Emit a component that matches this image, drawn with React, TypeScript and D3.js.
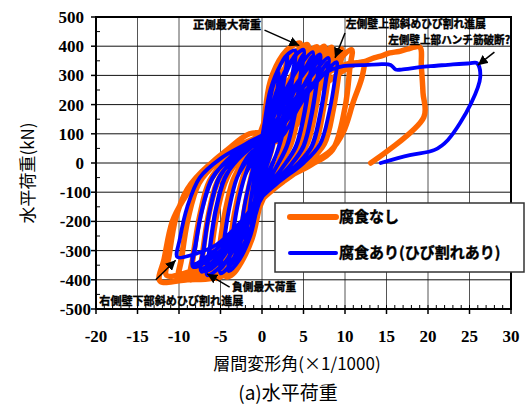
import React from "react";
import * as d3 from "d3";

type P = [number, number];

// x: story drift angle (×1/1000), y: horizontal load (kN)
const xTicks = [-20, -15, -10, -5, 0, 5, 10, 15, 20, 25, 30];
const yTicks = [-500, -400, -300, -200, -100, 0, 100, 200, 300, 400, 500];

const orangeCycles: P[][] = [
  [[0, 0], [0.5, 150], [1, 220], [0.8, 150], [0.3, 30], [-0.2, -60], [-0.6, -140], [-1, -200], [-0.8, -140], [-0.3, -30], [0.1, 60]],
  [[0.6, 150], [1.3, 270], [2, 330], [1.7, 240], [1.1, 110], [0.3, -20], [-0.5, -130], [-1.2, -230], [-2, -300], [-1.7, -220], [-1.1, -90], [-0.3, 40]],
  [[0.3, 130], [1.2, 280], [2.2, 350], [3, 385], [2.7, 300], [2.0, 170], [1.2, 50], [0, -60], [-0.8, -180], [-1.8, -290], [-3, -360], [-2.7, -280], [-2.0, -140], [-1.0, -10], [0, 100]],
  [[1, 280], [2.5, 370], [3.6, 400], [4.6, 410], [4.3, 330], [3.6, 190], [2.6, 60], [1.2, -50], [0, -120], [-1.2, -260], [-2.5, -340], [-3.5, -380], [-4.3, -390], [-4.0, -310], [-3.3, -170], [-2.3, -50], [-1, 40], [0, 120]],
  [[1.5, 230], [3, 340], [4.2, 385], [5.5, 405], [5.2, 330], [4.5, 190], [3.5, 70], [2, -20], [0.5, -100], [-1, -200], [-2.5, -300], [-4, -365], [-5.5, -395], [-5.2, -320], [-4.5, -180], [-3.5, -60], [-2, 20], [-0.5, 90]],
  [[1, 110], [2.6, 220], [4.2, 330], [5.5, 395], [5.2, 320], [4.5, 185], [3.5, 65], [1.8, -25], [0, -105], [-1.8, -210], [-3.6, -310], [-5.5, -385], [-5.2, -310], [-4.5, -175], [-3.4, -55], [-1.8, 20]],
  [[1.5, 170], [3.2, 280], [5, 360], [6.6, 398], [6.3, 320], [5.6, 190], [4.6, 70], [3, -10], [1, -80], [-0.8, -160], [-2.5, -270], [-4.5, -350], [-6.5, -395], [-6.2, -320], [-5.5, -185], [-4.5, -70], [-3, 10], [-1, 70]],
  [[1.3, 100], [3.2, 210], [5, 320], [6.6, 390], [6.3, 315], [5.6, 185], [4.6, 65], [2.8, -15], [0.5, -90], [-1.5, -180], [-3.5, -280], [-5.2, -350], [-6.5, -388], [-6.2, -312], [-5.5, -180], [-4.4, -60], [-2.7, 15]],
  [[1.8, 140], [4, 260], [6, 350], [7.5, 400], [7.2, 325], [6.5, 195], [5.5, 75], [4, 0], [2, -60], [0, -120], [-2, -220], [-4, -310], [-6, -370], [-7.5, -398], [-7.2, -325], [-6.5, -190], [-5.4, -70], [-3.8, 0], [-1.5, 60]],
  [[1.8, 95], [4, 210], [6, 320], [7.5, 392], [7.2, 318], [6.5, 190], [5.5, 70], [3.8, -5], [1.5, -70], [-0.8, -150], [-3, -250], [-5.5, -340], [-7.5, -390], [-7.2, -318], [-6.5, -185], [-5.4, -65], [-3.6, 5]],
  [[2, 120], [4.5, 240], [6.8, 340], [8.4, 396], [8.1, 320], [7.4, 190], [6.4, 70], [4.8, 0], [2.5, -60], [0.3, -110], [-2, -200], [-4.5, -300], [-7, -370], [-8.6, -400], [-8.3, -325], [-7.5, -185], [-6.3, -65], [-4.6, 0], [-2, 60]],
  [[2.3, 90], [4.8, 210], [6.9, 320], [8.4, 388], [8.1, 315], [7.4, 185], [6.4, 65], [4.5, -5], [2, -65], [-0.5, -130], [-3, -230], [-6, -330], [-8.6, -392], [-8.3, -318], [-7.5, -180], [-6.3, -60], [-4.4, 5]],
  [[2, 110], [5, 230], [7.8, 330], [9.6, 390], [9.3, 320], [8.6, 190], [7.5, 70], [5.5, 0], [3, -55], [0.5, -105], [-2, -190], [-5, -300], [-8, -375], [-10, -400], [-9.7, -330], [-8.9, -190], [-7.6, -70], [-5.5, 0], [-2.5, 60]],
  [[2.8, 85], [5.5, 200], [7.9, 310], [9.6, 382], [9.3, 315], [8.6, 185], [7.5, 65], [5.3, -5], [2.5, -65], [0, -125], [-3, -225], [-6.5, -330], [-10, -395], [-9.7, -325], [-8.9, -185], [-7.6, -65], [-5.3, 5]],
  [[1.5, 110], [5, 220], [8.5, 330], [10.8, 388], [10.6, 330], [10, 190], [8.5, 45], [6, -5], [3, -50], [1, -82], [-0.5, -130], [-2, -280], [-3.5, -370], [-6, -395], [-9, -400], [-12.3, -404], [-11.8, -330], [-10.8, -200], [-9.5, -127], [-6.6, -14], [-4.2, 45], [-1.5, 100]],
  [[2, 110], [6, 230], [10, 320], [12.2, 345], [12.1, 300], [11, 209], [9.8, 106], [8.2, 40], [5, -14], [1, -82], [-0.8, -150], [-3, -250], [-6, -340], [-9, -375], [-11.5, -385], [-11.2, -320], [-10.4, -190], [-9, -90], [-6.5, -10], [-3.5, 50], [0, 100]],
  [[4, 220], [8, 310], [10.4, 340], [12.2, 346], [13.5, 360], [14.5, 368], [15.4, 377], [16.5, 382], [17.5, 390], [19, 397], [19.2, 330], [19.4, 240], [19.5, 157], [13.1, 0]],
];

const blueCycles: P[][] = [
  [[0, 0], [0.5, 140], [1, 200], [0.8, 130], [0.3, 20], [-0.2, -60], [-0.6, -120], [-1, -170], [-0.8, -110], [-0.3, -20], [0.1, 60]],
  [[0.6, 150], [1.3, 260], [2, 310], [1.7, 220], [1.1, 100], [0.3, -20], [-0.5, -120], [-1.2, -210], [-2, -280], [-1.7, -200], [-1.1, -80], [-0.3, 40]],
  [[0.4, 140], [1.3, 270], [2.2, 335], [3, 370], [2.7, 290], [2, 160], [1.2, 45], [0, -60], [-0.8, -170], [-1.8, -270], [-3, -340], [-2.7, -260], [-2, -130], [-1, -10], [0, 90]],
  [[1, 250], [2.3, 340], [3.2, 375], [4, 385], [3.7, 310], [3, 175], [2, 55], [0.8, -40], [-0.3, -120], [-1.4, -250], [-2.7, -330], [-4, -370], [-3.7, -290], [-3, -155], [-2, -40], [-0.8, 40]],
  [[0.2, 60], [1.5, 180], [2.8, 300], [4, 370], [3.7, 295], [3, 165], [2, 50], [0.6, -40], [-0.6, -110], [-1.8, -210], [-3, -300], [-4, -355], [-3.7, -280], [-3, -150], [-2, -40], [-0.6, 30]],
  [[0.5, 110], [1.8, 250], [3.5, 350], [5, 388], [4.7, 315], [4, 180], [3, 60], [1.6, -20], [0, -110], [-1.3, -220], [-3, -320], [-5, -378], [-4.7, -300], [-4, -165], [-3, -50], [-1.5, 30]],
  [[0.8, 80], [2.4, 190], [3.8, 300], [5, 372], [4.7, 300], [4, 170], [3, 55], [1.5, -25], [-0.3, -100], [-2, -200], [-3.6, -300], [-5, -362], [-4.7, -290], [-4, -160], [-3, -50], [-1.4, 25]],
  [[0.5, 100], [2.5, 230], [4.5, 330], [6.1, 380], [5.8, 305], [5.1, 175], [4.1, 60], [2.6, -10], [0.8, -80], [-1, -170], [-2.8, -270], [-4.8, -350], [-6.6, -384], [-6.3, -305], [-5.6, -170], [-4.5, -55], [-3, 15], [-1, 70]],
  [[1, 80], [3, 190], [4.8, 300], [6.1, 365], [5.8, 290], [5.1, 165], [4.1, 55], [2.5, -15], [0.5, -85], [-1.5, -170], [-3.5, -270], [-5.2, -340], [-6.6, -368], [-6.3, -290], [-5.6, -160], [-4.5, -50], [-2.8, 15]],
  [[1.2, 120], [3.2, 230], [5.4, 320], [7, 372], [6.7, 300], [6, 175], [5, 60], [3.5, -5], [1.5, -65], [-0.5, -130], [-2.5, -230], [-4.8, -320], [-7.3, -372], [-7, -295], [-6.3, -165], [-5.2, -55], [-3.6, 10], [-1.5, 65]],
  [[1.5, 80], [3.6, 190], [5.5, 290], [7, 358], [6.7, 290], [6, 165], [5, 55], [3.4, -10], [1.2, -75], [-1, -150], [-3, -240], [-5.2, -320], [-7.3, -360], [-7, -285], [-6.3, -160], [-5.2, -50], [-3.4, 10]],
  [[1.5, 115], [4, 220], [6.3, 310], [8, 360], [7.7, 290], [7, 170], [6, 60], [4.4, 0], [2.2, -55], [0, -115], [-2.3, -210], [-5, -300], [-8.3, -356], [-8, -285], [-7.2, -160], [-6, -55], [-4.2, 10], [-1.8, 60]],
  [[2, 80], [4.4, 190], [6.5, 285], [8, 345], [7.7, 280], [7, 160], [6, 55], [4.3, -5], [2, -65], [-0.3, -125], [-2.8, -215], [-5.5, -295], [-8.3, -345], [-8, -275], [-7.2, -155], [-6, -50], [-4, 10]],
  [[2, 115], [4.8, 215], [7.3, 300], [9, 345], [8.8, 290], [8.1, 175], [7, 65], [5, 0], [2.5, -55], [0, -110], [-2.5, -200], [-5.5, -280], [-8.5, -315], [-10.2, -322], [-9.9, -260], [-9, -150], [-7.5, -50], [-5, 15], [-2, 65]],
  [[2, 130], [5, 240], [8, 315], [9.5, 330], [10, 333], [12, 335], [14, 338], [15.5, 336], [16.1, 320], [16.8, 320], [19, 328], [21, 333], [23, 338], [25, 341], [25.9, 342], [26.3, 295], [25.2, 205], [22.4, 79], [20.8, 45], [17.8, 27], [14.3, 0]],
];

const seriesNames = ["腐食なし", "腐食あり(ひび割れあり)"];
const seriesColors = ["#FF6600", "#0000FF"];

// annotation text + arrow (tail -> tip) in data coordinates
const annoTexts = ["正側最大荷重", "左側壁上部斜めひび割れ進展", "左側壁上部ハンチ筋破断?", "右側壁下部斜めひび割れ進展", "負側最大荷重"];
const annoTextAt: P[] = [[-8.3, 460], [10.1, 462], [15.2, 408], [-19.6, -485], [-3.6, -440]];
const annoTextWidth = [68, 140, 122, 144, 64];
const annoArrowFrom: P[] = [[0.3, 455], [10.0, 445], [28.0, 380], [-12.8, -400], [-3.9, -425]];
const annoArrowTo: P[] = [[4.5, 402], [8.8, 360], [26.0, 335], [-10.4, -333], [-6.6, -380]];

const W = 526, H = 405;
const x = d3.scaleLinear().domain([-20, 30]).range([96, 511]);
const y = d3.scaleLinear().domain([-500, 500]).range([309, 17]);

const line = d3
  .line<P>()
  .x((d) => x(d[0]))
  .y((d) => y(d[1]))
  .curve(d3.curveCatmullRom.alpha(0.5));

const JP = "'Noto Sans CJK JP', 'Noto Sans', sans-serif";
const SERIF = "'Liberation Serif', 'DejaVu Serif', serif";

export default function App() {
  const orange = orangeCycles.flat();
  const blue = blueCycles.flat();
  const minorX = d3.range(-20, 31, 1);
  const minorY = d3.range(-450, 500, 100);
  const [x0, x1] = x.range();
  const [y0, y1] = y.range();
  return (
    <svg width={W} height={H} style={{ position: "absolute", left: 0, top: 0, background: "#fff" }}>
      <defs>
        <marker id="ah" viewBox="0 0 10 10" refX="10" refY="5" markerWidth="10" markerHeight="10" markerUnits="userSpaceOnUse" orient="auto">
          <path d="M0,0 L10,5 L0,10 z" fill="#000" />
        </marker>
      </defs>
      {/* grid */}
      {xTicks.slice(1, -1).map((t) => (
        <line key={"gx" + t} x1={x(t)} x2={x(t)} y1={y1} y2={y0} stroke="#555" strokeWidth={1} />
      ))}
      {yTicks.slice(1, -1).map((t) => (
        <line key={"gy" + t} x1={x0} x2={x1} y1={y(t)} y2={y(t)} stroke="#111" strokeWidth={1} />
      ))}
      {/* minor ticks */}
      {minorX.map((t) => (
        <line key={"mx" + t} x1={x(t)} x2={x(t)} y1={y0} y2={y0 - 4} stroke="#000" strokeWidth={1} />
      ))}
      {minorY.map((t) => (
        <line key={"my" + t} x1={x0} x2={x0 + 4} y1={y(t)} y2={y(t)} stroke="#000" strokeWidth={1} />
      ))}
      {/* major ticks */}
      {xTicks.map((t) => (
        <line key={"tx" + t} x1={x(t)} x2={x(t)} y1={y0} y2={y0 + 5} stroke="#000" strokeWidth={1.5} />
      ))}
      {yTicks.map((t) => (
        <line key={"ty" + t} x1={x0 - 5} x2={x0} y1={y(t)} y2={y(t)} stroke="#000" strokeWidth={1.5} />
      ))}
      {/* data */}
      <path d={line(orange) || ""} fill="none" stroke={seriesColors[0]} strokeWidth={5.5} strokeLinejoin="round" strokeLinecap="round" />
      <path d={line(blue) || ""} fill="none" stroke={seriesColors[1]} strokeWidth={3.8} strokeLinejoin="round" strokeLinecap="round" />
      {/* frame */}
      <rect x={x0} y={y1} width={x1 - x0} height={y0 - y1} fill="none" stroke="#000" strokeWidth={2} />
      {/* tick labels */}
      {yTicks.map((t) => (
        <text key={"ly" + t} x={t < 0 ? 91 : 84} y={y(t)} dy="0.35em" textAnchor="end" fontFamily={SERIF} fontWeight="bold" fontSize={17}>
          {t}
        </text>
      ))}
      {xTicks.map((t) => (
        <text key={"lx" + t} x={x(t)} y={342} textAnchor="middle" fontFamily={SERIF} fontWeight="bold" fontSize={17}>
          {t}
        </text>
      ))}
      {/* axis titles */}
      <text x={297} y={370} textAnchor="middle" fontFamily={JP} fontSize={17}>
        層間変形角(×1/1000)
      </text>
      <text x={288} y={400} textAnchor="middle" fontFamily={JP} fontSize={19}>
        (a)水平荷重
      </text>
      <text transform="translate(34,173) rotate(-90)" textAnchor="middle" fontFamily={JP} fontSize={17}>
        水平荷重(kN)
      </text>
      {/* annotations */}
      {annoTexts.map((s, i) => (
        <g key={"an" + i}>
          <line
            x1={x(annoArrowFrom[i][0])}
            y1={y(annoArrowFrom[i][1])}
            x2={x(annoArrowTo[i][0])}
            y2={y(annoArrowTo[i][1])}
            stroke="#000"
            strokeWidth={1.5}
            markerEnd="url(#ah)"
          />
          <text
            x={x(annoTextAt[i][0])}
            y={y(annoTextAt[i][1])}
            fontFamily={JP}
            fontWeight="bold"
            fontSize={11}
            textLength={annoTextWidth[i]}
            lengthAdjust="spacingAndGlyphs"
            stroke="#000"
            strokeWidth={0.4}
          >
            {s}
          </text>
        </g>
      ))}
      {/* legend */}
      <rect x={275} y={203} width={249} height={69} fill="#fff" stroke="#333" strokeWidth={1.5} />
      {seriesNames.map((s, i) => (
        <g key={"lg" + i}>
          <line x1={290} x2={336} y1={217 + i * 36} y2={217 + i * 36} stroke={seriesColors[i]} strokeWidth={i === 0 ? 6 : 4} strokeLinecap="round" />
          <text x={339} y={217 + i * 36} dy="0.36em" fontFamily={JP} fontWeight="bold" fontSize={15} stroke="#000" strokeWidth={0.4}>
            {s}
          </text>
        </g>
      ))}
    </svg>
  );
}
